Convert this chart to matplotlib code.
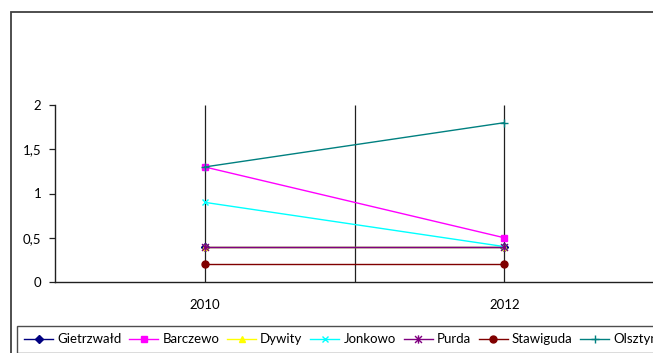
import matplotlib.pyplot as plt
from matplotlib.patches import Rectangle
from matplotlib.path import Path

plt.rcParams['font.family'] = ['Lato', 'DejaVu Sans']

years = ['2010', '2012']
gietrzwald = [0.4, 0.4]
barczewo = [1.3, 0.5]
dywity = [0.4, 0.4]
jonkowo = [0.9, 0.4]
purda = [0.4, 0.4]
stawiguda = [0.2, 0.2]
olsztyn = [1.3, 1.8]
y_ticks = [0, 0.5, 1, 1.5, 2]

# excel-style star: an x with a vertical bar
star = Path([(-1, -1), (1, 1), (-1, 1), (1, -1), (0, -1.2), (0, 1.2)],
            [Path.MOVETO, Path.LINETO, Path.MOVETO, Path.LINETO, Path.MOVETO, Path.LINETO])

series = [
    ('Gietrzwałd', gietrzwald, '#000080', 'D', 4),
    ('Barczewo', barczewo, '#FF00FF', 's', 5),
    ('Dywity', dywity, '#FFFF00', '^', 5),
    ('Jonkowo', jonkowo, '#00FFFF', 'x', 5),
    ('Purda', purda, '#800080', star, 6),
    ('Stawiguda', stawiguda, '#800000', 'o', 5),
    ('Olsztyn', olsztyn, '#008080', '+', 6),
]

W, H = 653, 353
fig = plt.figure(figsize=(W / 100, H / 100), dpi=100)

# chart area border (cropped on the right and bottom)
fig.patches.append(Rectangle((11 / W, -0.1), 1.2, 1 - 12 / H + 0.1,
                             transform=fig.transFigure, fill=False,
                             edgecolor='#404040', linewidth=1.3))

ax = fig.add_axes([55 / W, 1 - 282 / H, 599 / W, 177 / H])
x = list(range(len(years)))
ax.vlines([0, 0.5, 1], 0, 2, color='#202020', linewidth=0.9, zorder=1)

for name, vals, color, marker, ms in series:
    ax.plot(x, vals, color=color, marker=marker, markersize=ms,
            markeredgewidth=1.0, linewidth=1.0, label=name, zorder=3,
            clip_on=False)

ax.set_xlim(-0.5, 1.5)
ax.set_ylim(0, 2)
ax.set_xticks(x)
ax.set_xticklabels(years)
ax.set_yticks(y_ticks)
ax.set_yticklabels([f'{v:g}'.replace('.', ',') for v in y_ticks])
ax.tick_params(axis='x', length=0, pad=12, labelsize=9.5)
ax.tick_params(axis='y', length=4, width=0.9, direction='out', pad=6,
               labelsize=9.5, color='#202020')
for s in ['top', 'right']:
    ax.spines[s].set_visible(False)
for s in ['left', 'bottom']:
    ax.spines[s].set_color('#202020')
    ax.spines[s].set_linewidth(1.0)
ax.patch.set_alpha(0)

leg = fig.legend(loc='upper left', bbox_to_anchor=(17 / W, 1 - 326 / H),
                 ncol=7, fontsize=9.5, frameon=True, fancybox=False,
                 handlelength=2.2, handletextpad=0.3, columnspacing=0.6,
                 borderaxespad=0, borderpad=0.55)
leg.get_frame().set_edgecolor('#202020')
leg.get_frame().set_linewidth(1.0)

fig.savefig('out.png', dpi=100)
